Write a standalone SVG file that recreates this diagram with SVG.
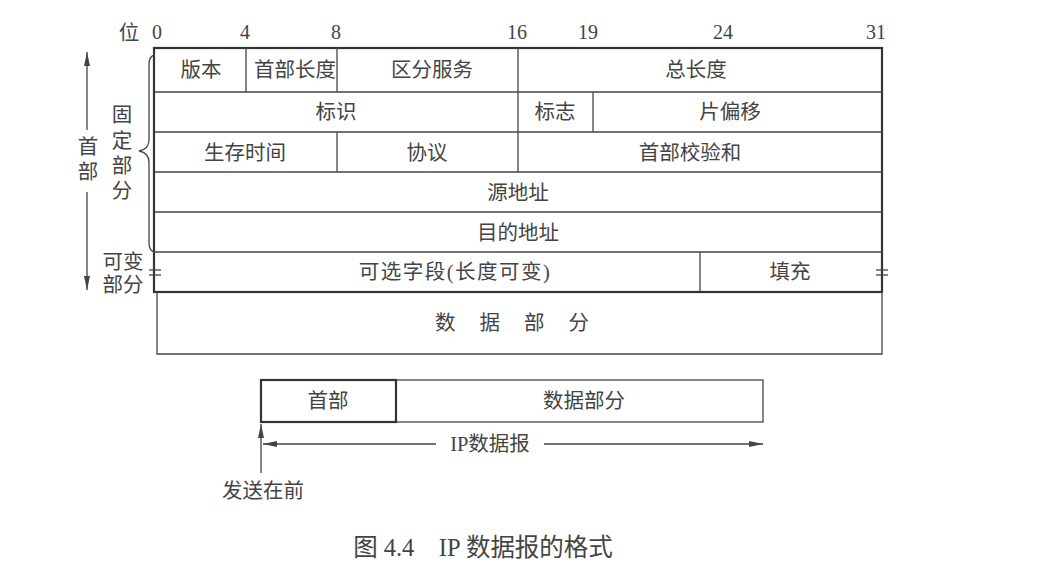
<svg xmlns="http://www.w3.org/2000/svg" width="1058" height="574" viewBox="0 0 1058 574">
<style>
text{font-family:"Liberation Serif","Noto Sans CJK SC",serif;fill:#444;font-size:20.5px;text-anchor:middle;dominant-baseline:central}
.thin{fill:none;stroke:#444;stroke-width:1.3}
.thick{fill:none;stroke:#333;stroke-width:2.2}
.num{font-size:20px}
.cap{font-size:24.5px}
</style>
<defs>
<marker id="ah" viewBox="0 0 14 6" refX="14" refY="3" markerWidth="14" markerHeight="6" markerUnits="userSpaceOnUse" orient="auto">
<path d="M0,0 L14,3 L0,6 Z" fill="#444"/>
</marker>
</defs>
<rect width="1058" height="574" fill="#fff"/>

<g id="bits">
<text x="129" y="33">位</text>
<text class="num" x="157" y="32">0</text>
<text class="num" x="245" y="32">4</text>
<text class="num" x="336" y="32">8</text>
<text class="num" x="517" y="32">16</text>
<text class="num" x="588" y="32">19</text>
<text class="num" x="723" y="32">24</text>
<text class="num" x="876" y="32">31</text>
</g>

<g id="header">
<rect class="thick" x="154" y="48" width="728" height="244"/>
<line class="thin" x1="154" y1="92" x2="882" y2="92"/>
<line class="thin" x1="154" y1="132" x2="882" y2="132"/>
<line class="thin" x1="154" y1="172" x2="882" y2="172"/>
<line class="thin" x1="154" y1="212" x2="882" y2="212"/>
<line class="thin" x1="154" y1="252" x2="882" y2="252"/>
<line class="thin" x1="246" y1="48" x2="246" y2="92"/>
<line class="thin" x1="337" y1="48" x2="337" y2="92"/>
<line class="thin" x1="518" y1="48" x2="518" y2="172"/>
<line class="thin" x1="593" y1="92" x2="593" y2="132"/>
<line class="thin" x1="337" y1="132" x2="337" y2="172"/>
<line class="thin" x1="700" y1="252" x2="700" y2="292"/>
<line class="thin" x1="149" y1="270" x2="161" y2="270"/>
<line class="thin" x1="149" y1="275" x2="161" y2="275"/>
<line class="thin" x1="876" y1="270" x2="888" y2="270"/>
<line class="thin" x1="876" y1="275" x2="888" y2="275"/>
</g>
<g id="row1">
<text x="201" y="70">版本</text>
<text x="295" y="70">首部长度</text>
<text x="432" y="70">区分服务</text>
<text x="696" y="70">总长度</text>
</g>
<g id="row2">
<text x="336" y="112">标识</text>
<text x="555" y="112">标志</text>
<text x="730" y="112">片偏移</text>
</g>
<g id="row3">
<text x="245" y="153">生存时间</text>
<text x="427" y="153">协议</text>
<text x="690" y="153">首部校验和</text>
</g>
<g id="row4"><text x="518" y="193">源地址</text></g>
<g id="row5"><text x="518" y="233">目的地址</text></g>
<g id="row6">
<text x="455" y="272" letter-spacing="1.5">可选字段(长度可变)</text>
<text x="790" y="272">填充</text>
</g>
<g id="data">
<path class="thin" d="M157,292 V354 H882 V292"/>
<text x="524" y="323" letter-spacing="24">数据部分</text>
</g>

<g id="labels">
<path class="thin" d="M155,55 Q149,56 149,64 V140 Q149,149 139,151 Q149,153 149,162 V243 Q149,251 155,252"/>
<text x="122" y="115">固</text>
<text x="122" y="141">定</text>
<text x="122" y="166">部</text>
<text x="122" y="191">分</text>
<text x="123" y="262">可变</text>
<text x="123" y="285">部分</text>
<text x="88" y="147">首</text>
<text x="88" y="172">部</text>
</g>

<g id="bottom">
<rect class="thin" x="396" y="380" width="367" height="42"/>
<rect class="thick" x="261" y="380" width="135" height="42"/>
<text x="328" y="401">首部</text>
<text x="584" y="401">数据部分</text>
<text x="490" y="444">IP数据报</text>
<text x="263" y="491">发送在前</text>
</g>

<g id="connectors">
<line class="thin" x1="87" y1="130" x2="87" y2="52" marker-end="url(#ah)"/>
<line class="thin" x1="87" y1="192" x2="87" y2="290" marker-end="url(#ah)"/>
<line class="thin" x1="436" y1="444" x2="263" y2="444" marker-end="url(#ah)"/>
<line class="thin" x1="544" y1="444" x2="763" y2="444" marker-end="url(#ah)"/>
<line class="thin" x1="261" y1="473" x2="261" y2="424" marker-end="url(#ah)"/>
</g>

<text class="cap" x="483" y="547" xml:space="preserve">图 4.4    IP 数据报的格式</text>
</svg>
